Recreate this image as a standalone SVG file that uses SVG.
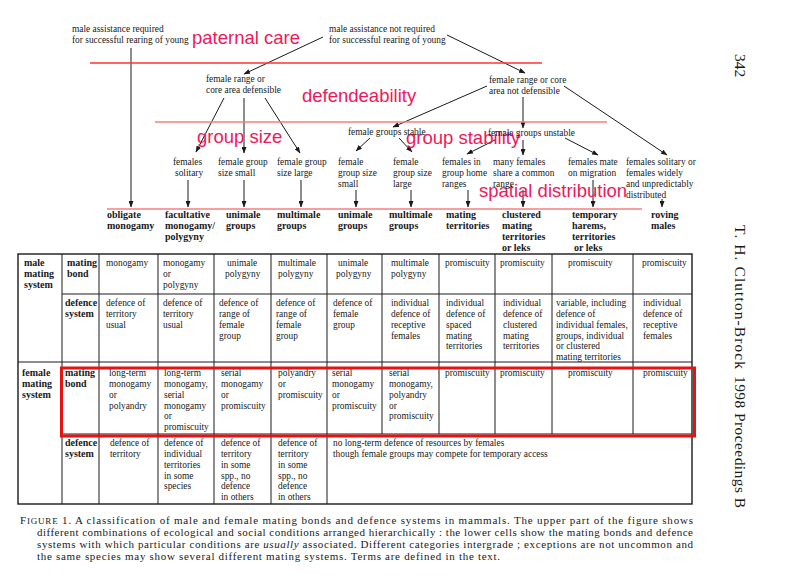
<svg xmlns="http://www.w3.org/2000/svg" width="785" height="583" viewBox="0 0 785 583">
<defs>
<marker id="ah" markerUnits="userSpaceOnUse" markerWidth="7" markerHeight="5" refX="6" refY="2.5" orient="auto">
<path d="M0,0 L6.5,2.5 L0,5 z" fill="#1a1a1a"/>
</marker>
<style>
.t{font-family:"Liberation Serif","Times New Roman",serif;font-size:9.4px;fill:#1a1a1a}
.b{font-weight:bold;font-size:10px}
.r{font-family:"Liberation Sans",Arial,sans-serif;font-size:18.5px;fill:#f0185a}
.cap{font-size:11px}
.hd{font-size:15.5px}
.c{stroke:#1a1a1a;stroke-width:1;fill:none;marker-end:url(#ah)}
.g{stroke:#1a1a1a;stroke-width:1;fill:none}
.o{stroke:#1a1a1a;stroke-width:1.4;fill:none}
</style>
</defs>
<rect width="785" height="583" fill="#ffffff"/>

<g id="connectors">
<path class="c" d="M131,48 V207"/>
<path class="c" d="M323,37 L244,74"/>
<path class="c" d="M447,35 L525,73"/>
<path class="c" d="M224,98 L196,152"/>
<path class="c" d="M244,98 V153"/>
<path class="c" d="M265,98 L300,153"/>
<path class="c" d="M487,86 L393,127"/>
<path class="c" d="M523,97 V128"/>
<path class="c" d="M564,86 L667,155"/>
<path class="c" d="M370,138 L356,151"/>
<path class="c" d="M399,138 L412,152"/>
<path class="c" d="M495,140 L467,154"/>
<path class="c" d="M523,140 V155"/>
<path class="c" d="M565,138 L598,155"/>
<path class="c" d="M188,180 V207"/>
<path class="c" d="M244,180 V207"/>
<path class="c" d="M301,180 V207"/>
<path class="c" d="M356,190 V207"/>
<path class="c" d="M411,190 V207"/>
<path class="c" d="M468,190 V207"/>
<path class="c" d="M523,190 V207"/>
<path class="c" d="M593,180 V207"/>
<path class="c" d="M662,199 V207"/>
</g>

<g id="level-lines">
<line x1="90" y1="63" x2="542" y2="63" stroke="#ff3333" stroke-width="1.3"/>
<line x1="155" y1="122" x2="607" y2="122" stroke="#f47f7f" stroke-width="1.5"/>
<line x1="107" y1="209" x2="642" y2="209" stroke="#f47f7f" stroke-width="1.5"/>
</g>

<g id="level-labels">
<text class="r" x="192" y="44">paternal care</text>
<text class="r" x="302" y="102">defendeability</text>
<text class="r" x="197" y="143">group size</text>
<text class="r" x="406" y="144">group stability</text>
<text class="r" x="479" y="197">spatial distribution</text>
</g>

<g id="node-male-required"><text class="t" x="72" y="32">male assistance required<tspan x="72" y="43">for successful rearing of young</tspan></text></g>
<g id="node-male-not-required"><text class="t" x="329" y="32">male assistance not required<tspan x="329" y="43">for successful rearing of young</tspan></text></g>
<g id="node-defensible"><text class="t" x="206" y="82">female range or<tspan x="206" y="93">core area defensible</tspan></text></g>
<g id="node-not-defensible"><text class="t" x="489" y="83">female range or core<tspan x="489" y="94">area not defensible</tspan></text></g>
<g id="node-groups-stable"><text class="t" x="348" y="135">female groups stable</text></g>
<g id="node-groups-unstable"><text class="t" x="488" y="136">female groups unstable</text></g>

<g id="node-females-solitary"><text class="t" x="173" y="165">females<tspan x="175" y="176">solitary</tspan></text></g>
<g id="node-group-small"><text class="t" x="218" y="165">female group<tspan x="218" y="176">size small</tspan></text></g>
<g id="node-group-large"><text class="t" x="277" y="165">female group<tspan x="277" y="176">size large</tspan></text></g>
<g id="node-stable-small"><text class="t" x="338" y="165">female<tspan x="338" y="176">group size</tspan><tspan x="338" y="187">small</tspan></text></g>
<g id="node-stable-large"><text class="t" x="393" y="165">female<tspan x="393" y="176">group size</tspan><tspan x="393" y="187">large</tspan></text></g>
<g id="node-home-ranges"><text class="t" x="442" y="165">females in<tspan x="442" y="176">group home</tspan><tspan x="442" y="187">ranges</tspan></text></g>
<g id="node-common-range"><text class="t" x="493" y="165">many females<tspan x="493" y="176">share a common</tspan><tspan x="493" y="187">range</tspan></text></g>
<g id="node-migration"><text class="t" x="568" y="165">females mate<tspan x="568" y="176">on migration</tspan></text></g>
<g id="node-widely"><text class="t" x="626" y="165">females solitary or<tspan x="626" y="176">females widely</tspan><tspan x="626" y="187">and unpredictably</tspan><tspan x="626" y="198">distributed</tspan></text></g>

<g id="node-obligate"><text class="t b" x="107" y="217.5">obligate<tspan x="107" y="228.5">monogamy</tspan></text></g>
<g id="node-facultative"><text class="t b" x="165" y="217.5">facultative<tspan x="165" y="228.5">monogamy/</tspan><tspan x="165" y="239.5">polygyny</tspan></text></g>
<g id="node-unimale-1"><text class="t b" x="226" y="217.5">unimale<tspan x="226" y="228.5">groups</tspan></text></g>
<g id="node-multimale-1"><text class="t b" x="277" y="217.5">multimale<tspan x="277" y="228.5">groups</tspan></text></g>
<g id="node-unimale-2"><text class="t b" x="338" y="217.5">unimale<tspan x="338" y="228.5">groups</tspan></text></g>
<g id="node-multimale-2"><text class="t b" x="389" y="217.5">multimale<tspan x="389" y="228.5">groups</tspan></text></g>
<g id="node-mating-territories"><text class="t b" x="446" y="217.5">mating<tspan x="446" y="228.5">territories</tspan></text></g>
<g id="node-clustered"><text class="t b" x="502" y="217.5">clustered<tspan x="502" y="228.5">mating</tspan><tspan x="502" y="239.5">territories</tspan><tspan x="502" y="250.5">or leks</tspan></text></g>
<g id="node-temporary"><text class="t b" x="572" y="217.5">temporary<tspan x="572" y="228.5">harems,</tspan><tspan x="572" y="239.5">territories</tspan><tspan x="574" y="250.5">or leks</tspan></text></g>
<g id="node-roving"><text class="t b" x="651" y="217.5">roving<tspan x="651" y="228.5">males</tspan></text></g>

<g id="table-grid">
<rect class="o" x="18" y="254" width="674" height="250"/>
<line class="g" x1="62" y1="294" x2="692" y2="294"/>
<line class="g" x1="18" y1="362" x2="692" y2="362"/>
<line class="g" x1="62" y1="434" x2="692" y2="434"/>
<line class="g" x1="62" y1="254" x2="62" y2="504"/>
<line class="g" x1="99" y1="254" x2="99" y2="504"/>
<line class="g" x1="158" y1="254" x2="158" y2="504"/>
<line class="g" x1="214" y1="254" x2="214" y2="504"/>
<line class="g" x1="271" y1="254" x2="271" y2="504"/>
<line class="g" x1="327" y1="254" x2="327" y2="504"/>
<line class="g" x1="382" y1="254" x2="382" y2="434"/>
<line class="g" x1="439" y1="254" x2="439" y2="434"/>
<line class="g" x1="495" y1="254" x2="495" y2="434"/>
<line class="g" x1="552" y1="254" x2="552" y2="434"/>
<line class="g" x1="633" y1="254" x2="633" y2="434"/>
</g>

<g id="table-male">
<text class="t b" x="24" y="266">male<tspan x="24" y="277">mating</tspan><tspan x="24" y="288">system</tspan></text>
<text class="t b" x="67" y="266">mating<tspan x="67" y="277">bond</tspan></text>
<text class="t" x="106" y="266">monogamy</text>
<text class="t" x="163" y="266">monogamy<tspan x="163" y="277">or</tspan><tspan x="163" y="288">polygyny</tspan></text>
<text class="t" x="227" y="266">unimale<tspan x="225" y="277">polygyny</tspan></text>
<text class="t" x="278" y="266">multimale<tspan x="278" y="277">polygyny</tspan></text>
<text class="t" x="338" y="266">unimale<tspan x="336" y="277">polygyny</tspan></text>
<text class="t" x="391" y="266">multimale<tspan x="391" y="277">polygyny</tspan></text>
<text class="t" x="445" y="266">promiscuity</text>
<text class="t" x="500" y="266">promiscuity</text>
<text class="t" x="568" y="266">promiscuity</text>
<text class="t" x="642" y="266">promiscuity</text>

<text class="t b" x="65" y="306">defence<tspan x="65" y="317">system</tspan></text>
<text class="t" x="106" y="306">defence of<tspan x="106" y="317">territory</tspan><tspan x="106" y="328">usual</tspan></text>
<text class="t" x="163" y="306">defence of<tspan x="163" y="317">territory</tspan><tspan x="163" y="328">usual</tspan></text>
<text class="t" x="219" y="306">defence of<tspan x="219" y="317">range of</tspan><tspan x="219" y="328">female</tspan><tspan x="219" y="338.5">group</tspan></text>
<text class="t" x="276" y="306">defence of<tspan x="276" y="317">range of</tspan><tspan x="276" y="328">female</tspan><tspan x="276" y="338.5">group</tspan></text>
<text class="t" x="333" y="306">defence of<tspan x="333" y="317">female</tspan><tspan x="333" y="328">group</tspan></text>
<text class="t" x="391" y="306">individual<tspan x="391" y="317">defence of</tspan><tspan x="391" y="328">receptive</tspan><tspan x="391" y="338.5">females</tspan></text>
<text class="t" x="446" y="306">individual<tspan x="446" y="317">defence of</tspan><tspan x="446" y="328">spaced</tspan><tspan x="446" y="338.5">mating</tspan><tspan x="446" y="349">territories</tspan></text>
<text class="t" x="503" y="306">individual<tspan x="503" y="317">defence of</tspan><tspan x="503" y="328">clustered</tspan><tspan x="503" y="338.5">mating</tspan><tspan x="503" y="349">territories</tspan></text>
<text class="t" x="556" y="306">variable, including<tspan x="556" y="317">defence of</tspan><tspan x="556" y="328">individual females,</tspan><tspan x="556" y="338.5">groups, individual</tspan><tspan x="556" y="349">or clustered</tspan><tspan x="556" y="360">mating territories</tspan></text>
<text class="t" x="643" y="306">individual<tspan x="643" y="317">defence of</tspan><tspan x="643" y="328">receptive</tspan><tspan x="643" y="338.5">females</tspan></text>
</g>

<g id="table-female">
<text class="t b" x="22" y="376">female<tspan x="22" y="387">mating</tspan><tspan x="22" y="398">system</tspan></text>
<text class="t b" x="65" y="376">mating<tspan x="65" y="387">bond</tspan></text>
<text class="t" x="109" y="376">long-term<tspan x="109" y="387">monogamy</tspan><tspan x="109" y="398">or</tspan><tspan x="109" y="408.5">polyandry</tspan></text>
<text class="t" x="164" y="376">long-term<tspan x="164" y="387">monogamy,</tspan><tspan x="164" y="398">serial</tspan><tspan x="164" y="408.5">monogamy</tspan><tspan x="164" y="419">or</tspan><tspan x="164" y="430">promiscuity</tspan></text>
<text class="t" x="221" y="376">serial<tspan x="221" y="387">monogamy</tspan><tspan x="221" y="398">or</tspan><tspan x="221" y="408.5">promiscuity</tspan></text>
<text class="t" x="278" y="376">polyandry<tspan x="278" y="387">or</tspan><tspan x="278" y="398">promiscuity</tspan></text>
<text class="t" x="332" y="376">serial<tspan x="332" y="387">monogamy</tspan><tspan x="332" y="398">or</tspan><tspan x="332" y="408.5">promiscuity</tspan></text>
<text class="t" x="389" y="376">serial<tspan x="389" y="387">monogamy,</tspan><tspan x="389" y="398">polyandry</tspan><tspan x="389" y="408.5">or</tspan><tspan x="389" y="419">promiscuity</tspan></text>
<text class="t" x="445" y="376">promiscuity</text>
<text class="t" x="500" y="376">promiscuity</text>
<text class="t" x="568" y="376">promiscuity</text>
<text class="t" x="643" y="376">promiscuity</text>

<text class="t b" x="65" y="446">defence<tspan x="65" y="457">system</tspan></text>
<text class="t" x="110" y="446">defence of<tspan x="110" y="457">territory</tspan></text>
<text class="t" x="164" y="446">defence of<tspan x="164" y="457">individual</tspan><tspan x="164" y="468">territories</tspan><tspan x="164" y="478.5">in some</tspan><tspan x="164" y="489">species</tspan></text>
<text class="t" x="221" y="446">defence of<tspan x="221" y="457">territory</tspan><tspan x="221" y="468">in some</tspan><tspan x="221" y="478.5">spp., no</tspan><tspan x="221" y="489">defence</tspan><tspan x="221" y="500">in others</tspan></text>
<text class="t" x="278" y="446">defence of<tspan x="278" y="457">territory</tspan><tspan x="278" y="468">in some</tspan><tspan x="278" y="478.5">spp., no</tspan><tspan x="278" y="489">defence</tspan><tspan x="278" y="500">in others</tspan></text>
<text class="t" x="333" y="446">no long-term defence of resources by females<tspan x="333" y="457">though female groups may compete for temporary access</tspan></text>
</g>

<g id="highlight">
<rect x="61.5" y="368" width="633" height="68" fill="none" stroke="#e81212" stroke-width="3"/>
</g>

<g id="caption">
<text class="t cap" x="20" y="524" textLength="673" lengthAdjust="spacing">F<tspan font-size="9px">IGURE</tspan> 1. A classification of male and female mating bonds and defence systems in mammals. The upper part of the figure shows</text>
<text class="t cap" x="37" y="536" textLength="656" lengthAdjust="spacing">different combinations of ecological and social conditions arranged hierarchically : the lower cells show the mating bonds and defence</text>
<text class="t cap" x="37" y="548" textLength="656" lengthAdjust="spacing">systems with which particular conditions are <tspan font-style="italic">usually</tspan> associated. Different categories intergrade ; exceptions are not uncommon and</text>
<text class="t cap" x="37" y="560" textLength="463" lengthAdjust="spacing">the same species may show several different mating systems. Terms are defined in the text.</text>
</g>

<g id="running-head">
<text class="t hd" transform="translate(735,54) rotate(90)">342</text>
<text class="t hd" transform="translate(735,225) rotate(90)" textLength="144" lengthAdjust="spacing">T. H. Clutton-Brock</text>
<text class="t hd" transform="translate(735,376) rotate(90)" textLength="132" lengthAdjust="spacing">1998 Proceedings B</text>
</g>
</svg>
